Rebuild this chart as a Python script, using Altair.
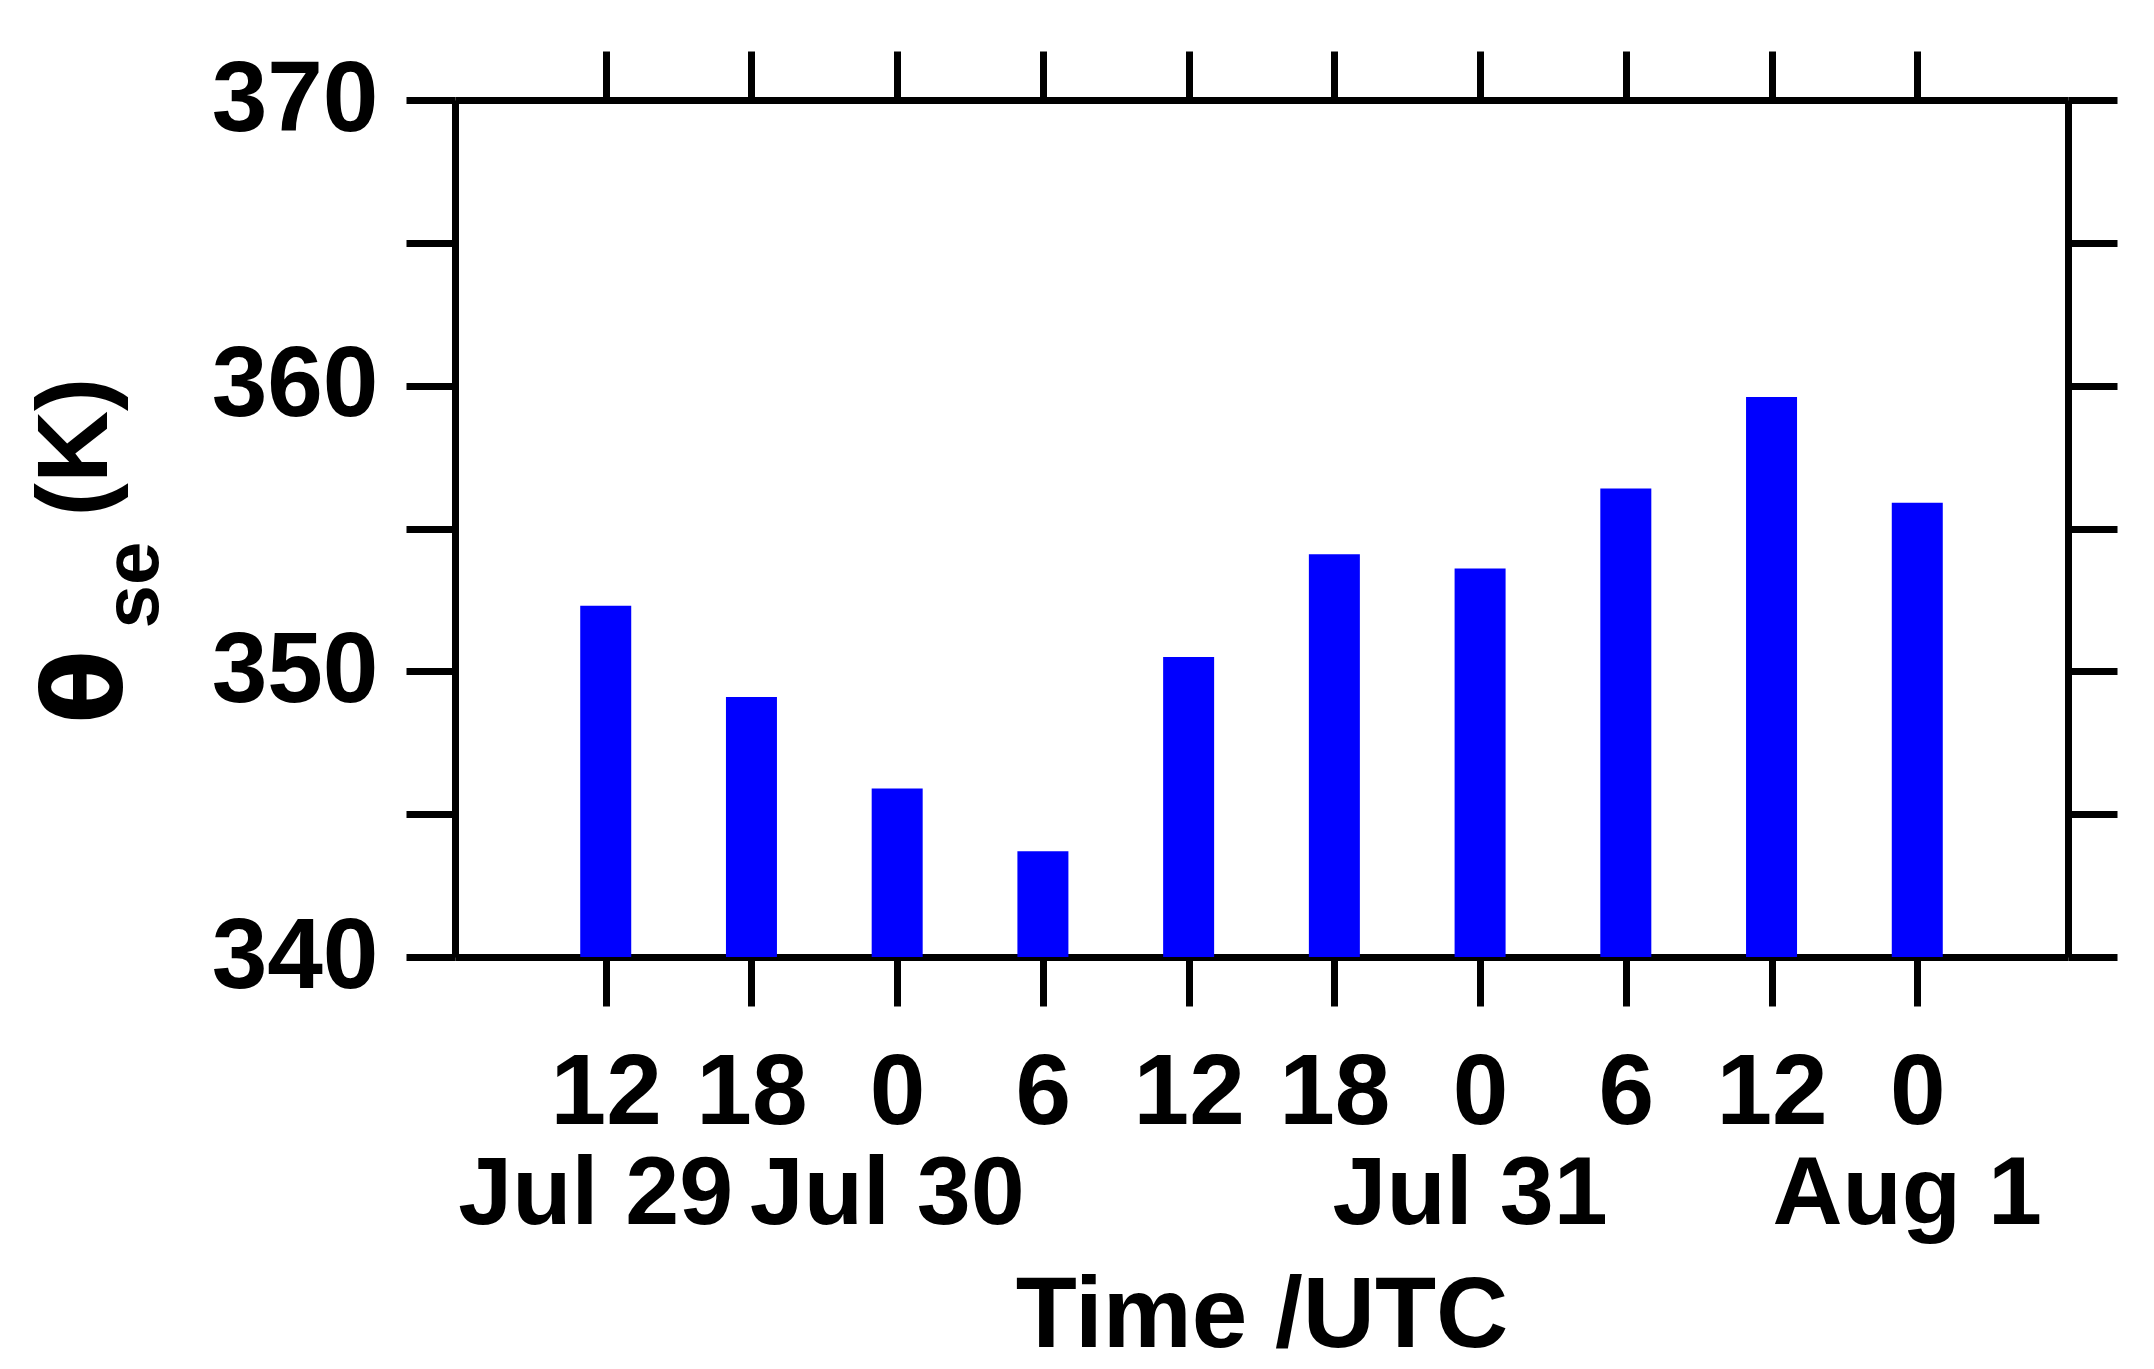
import json
import altair as alt
import pandas as pd

# ---- data ----
hours = ["12", "18", "0", "6", "12", "18", "0", "6", "12", "0"]
dates = ["Jul 29", "", "Jul 30", "", "", "", "Jul 31", "", "", "Aug 1"]
theta_se = [352.3, 349.1, 345.9, 343.7, 350.5, 354.1, 353.6, 356.4, 359.6, 355.9]
y_ticks = [340, 345, 350, 355, 360, 365, 370]
x_title = "Time /UTC"
y_title_parts = ["θ", "se", "(K)"]

idx = list(range(len(hours)))
df = pd.DataFrame({"idx": idx, "hour": hours, "date": dates, "value": theta_se})
df_dates = df[df["date"] != ""]

FONT = "Liberation Sans"
FS = 100
W, H = 1613, 857
TICK = 49
SW = 7

xscale = alt.Scale(domain=[-1, len(hours)], nice=False, zero=False)
yscale = alt.Scale(domain=[y_ticks[0], y_ticks[-1]], nice=False, zero=False)

common_axis = dict(
    grid=False, domainColor="black", domainWidth=SW, tickColor="black",
    tickWidth=SW, tickSize=TICK, labelOverlap=False, labelFlush=False,
    labelBound=False,
)

bottom_axis = alt.Axis(
    orient="bottom", values=idx,
    labelExpr=json.dumps(hours) + "[datum.value]",
    labelFont=FONT, labelFontSize=FS, labelFontWeight="bold", labelColor="black",
    labelBaseline="alphabetic", labelPadding=117,
    title=x_title, titleFont=FONT, titleFontSize=FS, titleFontWeight="bold",
    titleColor="black", titleBaseline="alphabetic", titleY=389, titleX=W / 2,
    titleAnchor="middle", **common_axis,
)
top_axis = alt.Axis(orient="top", values=idx, labels=False, title=None, **common_axis)
left_axis = alt.Axis(
    orient="left", values=y_ticks,
    labelExpr="datum.value % 10 == 0 ? datum.label : ''",
    labelFont=FONT, labelFontSize=FS, labelFontWeight="bold", labelColor="black",
    labelPadding=28, title=None, **common_axis,
)
right_axis = alt.Axis(orient="right", values=y_ticks, labels=False, title=None, **common_axis)

bars = alt.Chart(df).mark_bar(color="#0000FF", size=51).encode(
    x=alt.X("idx:Q", scale=xscale, axis=bottom_axis),
    y=alt.Y("value:Q", scale=yscale, axis=left_axis),
    y2=alt.datum(y_ticks[0]),
)

frame = alt.Chart(df).mark_point(opacity=0).encode(
    x=alt.X("idx:Q", scale=xscale, axis=top_axis),
    y=alt.Y("value:Q", scale=yscale, axis=right_axis),
)

date_text = alt.Chart(df_dates).mark_text(
    font=FONT, fontSize=97, fontWeight="bold", color="black",
    align="center", baseline="alphabetic", dx=-10,
).encode(
    x=alt.X("idx:Q", scale=xscale, axis=None),
    y=alt.value(1124),
    text="date:N",
)

def ytitle_piece(txt, xpos, ypos, size, font=FONT):
    return alt.Chart(pd.DataFrame({"t": [txt]})).mark_text(
        font=font, fontSize=size, fontWeight="bold", color="black",
        align="center", baseline="alphabetic", angle=270,
    ).encode(x=alt.value(xpos), y=alt.value(ypos), text="t:N")

t1 = ytitle_piece(y_title_parts[0], -334, 587, 108, font="DejaVu Sans")
t2 = ytitle_piece(y_title_parts[1], -297, 485, 78)
t3 = ytitle_piece(y_title_parts[2], -348, 347, FS)

chart = alt.layer(bars, frame, date_text, t1, t2, t3).resolve_axis(
    x="independent", y="independent"
).properties(
    width=W, height=H,
    autosize=alt.AutoSizeParams(type="none"),
    padding={"left": 447, "top": 92, "right": 78, "bottom": 404},
).configure_view(strokeWidth=0).configure(background="white")

chart.save("out.html", embed_options={"renderer": "svg", "actions": False})
